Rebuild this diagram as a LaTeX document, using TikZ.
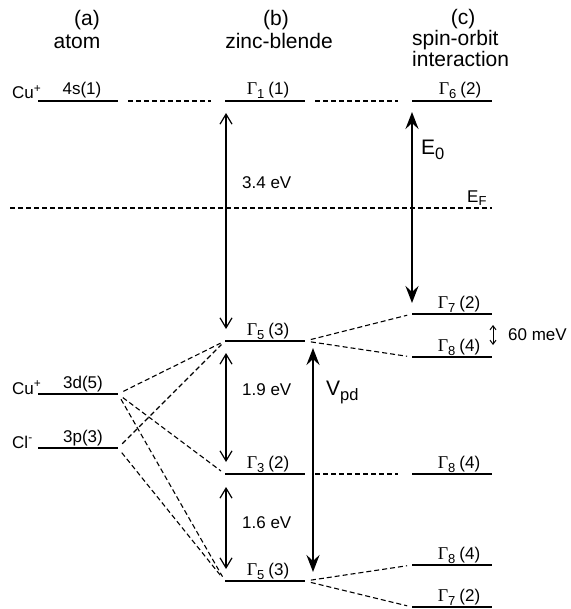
\documentclass[tikz,border=0pt]{standalone}
\usepackage{fontspec}
\setmainfont{Liberation Sans}
\newfontfamily\gfont{Liberation Serif}
\usetikzlibrary{arrows.meta}
\newcommand\Gm[2]{{\gfont\fontsize{18}{18}\selectfont Γ}\raisebox{-4pt}{\fontsize{13}{13}\selectfont #1}\hspace{4pt}(#2)}
\newcommand\sub[1]{\raisebox{-5pt}{\fontsize{16.5}{16.5}\selectfont #1}}
\begin{document}
\begin{tikzpicture}[x=1pt,y=-1pt,
  level/.style={line width=2pt},
  conn/.style={dash pattern=on 5pt off 3pt, line width=1.1pt, shorten <=6pt, shorten >=5pt},
  hconn/.style={dash pattern=on 5pt off 3pt, line width=1.1pt, shorten <=10pt, shorten >=14pt},
  lab/.style={font=\fontsize{17}{17}\selectfont, anchor=base, inner sep=0pt},
  head/.style={font=\fontsize{21}{21}\selectfont, anchor=base, inner sep=0pt},
  big/.style={font=\fontsize{21}{21}\selectfont, anchor=base west, inner sep=0pt},
  thinarr/.style={line width=1.2pt, {Straight Barb[length=10pt,width=12pt]}-{Straight Barb[length=10pt,width=12pt]}},
  thickarr/.style={line width=2.6pt, {Stealth[length=17pt,width=13pt,inset=6pt]}-{Stealth[length=17pt,width=13pt,inset=6pt]}},
  smallarr/.style={line width=1pt, {Straight Barb[length=4pt,width=6pt]}-{Straight Barb[length=4pt,width=6pt]}}]
\useasboundingbox (0,0) rectangle (570,609);

% headers
\node[head] (ha) at (87,26) {(a)};
\node[head] (ha2) at (77,49) {atom};
\node[head] (hb) at (276,26) {(b)};
\node[head] (hb2) at (279,49) {zinc-blende};
\node[head] (hc) at (463,25) {(c)};
\node[head, anchor=base west] (hc2) at (412,46) {spin-orbit};
\node[head, anchor=base west] (hc3) at (412,67) {interaction};

% level end points
\coordinate (s4L) at (38,101);   \coordinate (s4R) at (118,101);
\coordinate (g1L) at (225,101);  \coordinate (g1R) at (305,101);
\coordinate (g6L) at (412,101);  \coordinate (g6R) at (492,101);
\coordinate (g7uL) at (412,314); \coordinate (g7uR) at (492,314);
\coordinate (g8uL) at (412,357); \coordinate (g8uR) at (492,357);
\coordinate (g5uL) at (225,341); \coordinate (g5uR) at (305,341);
\coordinate (d3L) at (38,394);   \coordinate (d3R) at (118,394);
\coordinate (p3L) at (38,448);   \coordinate (p3R) at (118,448);
\coordinate (g3L) at (225,474);  \coordinate (g3R) at (305,474);
\coordinate (g8mL) at (412,474); \coordinate (g8mR) at (492,474);
\coordinate (g5lL) at (225,581); \coordinate (g5lR) at (305,581);
\coordinate (g8lL) at (412,565); \coordinate (g8lR) at (492,565);
\coordinate (g7lL) at (412,607); \coordinate (g7lR) at (492,607);

% levels
\foreach \a in {s4,g1,g6,g7u,g8u,g5u,d3,p3,g3,g8m,g5l,g8l,g7l}
  \draw[level] (\a L) -- (\a R);

% level labels
\node[lab, anchor=base west] (cu1) at (12,99) {Cu\textsuperscript{+}};
\node[lab] (l4s) at (82,95) {4s(1)};
\node[lab] (lg1) at (268,95) {\Gm{1}{1}};
\node[lab] (lg6) at (460,95) {\Gm{6}{2}};
\node[lab] (lg7u) at (459,308) {\Gm{7}{2}};
\node[lab] (lg8u) at (459,351) {\Gm{8}{4}};
\node[lab] (lg5u) at (268,335) {\Gm{5}{3}};
\node[lab, anchor=base west] (cu2) at (12,394) {Cu\textsuperscript{+}};
\node[lab] (l3d) at (83,388) {3d(5)};
\node[lab, anchor=base west] (cl) at (12,448) {Cl\textsuperscript{-}};
\node[lab] (l3p) at (83,442) {3p(3)};
\node[lab] (lg3) at (268,468) {\Gm{3}{2}};
\node[lab] (lg8m) at (459,468) {\Gm{8}{4}};
\node[lab] (lg5l) at (268,575) {\Gm{5}{3}};
\node[lab] (lg8l) at (459,559) {\Gm{8}{4}};
\node[lab] (lg7l) at (459,601) {\Gm{7}{2}};

% horizontal dashed connectors
\draw[hconn] (s4R) -- (g1L);
\draw[hconn] (g1R) -- (g6L);
\draw[hconn] (g3R) -- (g8mL);

% slanted dashed connectors
\draw[conn] (d3R) -- (g5uL);
\draw[conn] (d3R) -- (g3L);
\draw[conn] (d3R) -- (g5lL);
\draw[conn] (p3R) -- (g5uL);
\draw[conn] (p3R) -- (g5lL);
\draw[conn] (g5uR) -- (g7uL);
\draw[conn] (g5uR) -- (g8uL);
\draw[conn] (g5lR) -- (g8lL);
\draw[conn] (g5lR) -- (g7lL);

% Fermi level
\coordinate (efL) at (10,208); \coordinate (efR) at (492,208);
\draw[dash pattern=on 5pt off 3pt, line width=1.1pt] (efL) -- (efR);
\node[lab, anchor=base west] (ef) at (467,203) {E\raisebox{-3pt}{\fontsize{13}{13}\selectfont F}};

% thin arrows
\coordinate (a1t) at (226,113); \coordinate (a1b) at (226,329);
\coordinate (a2t) at (226,353); \coordinate (a2b) at (226,462);
\coordinate (a3t) at (226,487); \coordinate (a3b) at (226,569);
\draw[thinarr] (a1t) -- (a1b);
\draw[thinarr] (a2t) -- (a2b);
\draw[thinarr] (a3t) -- (a3b);
\node[lab, anchor=base west] (e34) at (242,189) {3.4 eV};
\node[lab, anchor=base west] (e19) at (242,395) {1.9 eV};
\node[lab, anchor=base west] (e16) at (242,528) {1.6 eV};

% thick arrows
\coordinate (e0t) at (412,112); \coordinate (e0b) at (412,303);
\draw[thickarr] (e0t) -- (e0b);
\node[big] (le0) at (421,155) {E\sub{0}};
\coordinate (vt) at (313,348); \coordinate (vb) at (313,572);
\draw[thickarr] (vt) -- (vb);
\node[big] (lvpd) at (326,395) {V\sub{pd}};

% 60 meV
\coordinate (mt) at (493,325); \coordinate (mb) at (493,345);
\draw[smallarr] (mt) -- (mb);
\node[lab, anchor=base west] (m60) at (508,340) {60 meV};
\end{tikzpicture}
\end{document}
